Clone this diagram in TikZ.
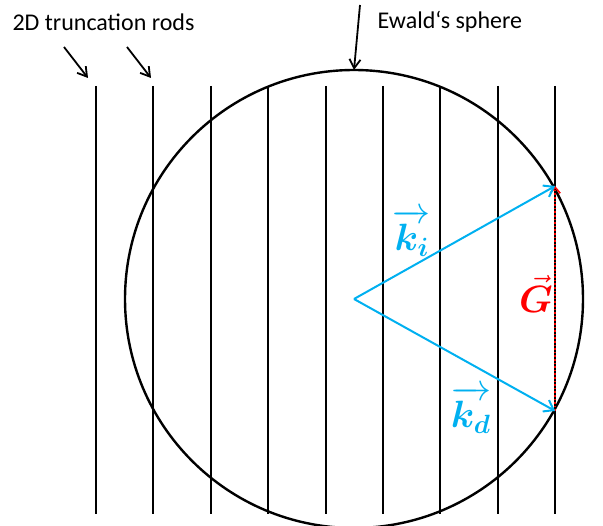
\documentclass[tikz,border=0pt]{standalone}
\usepackage{amsmath}
\usepackage{bm}
\usepackage{fontspec}
\setmainfont{Carlito}
\usetikzlibrary{arrows.meta}
\definecolor{kblue}{HTML}{00B0F0}
\definecolor{gred}{HTML}{FF0000}
\tikzset{
  rod/.style={black, line width=2pt},
  sphere/.style={black, line width=2.4pt},
  pointer/.style={black, line width=1.8pt, -{Straight Barb[length=9pt,width=11pt]}},
  wavevec/.style={kblue, line width=2pt, -{Straight Barb[length=9pt,width=13pt]}},
  recvec/.style={gred, line width=1.6pt, dotted, -{Straight Barb[length=6pt,width=10pt]}},
  vlabel/.style={font=\LARGE, inner sep=0pt},
  caption/.style={anchor=west, font=\fontsize{24}{28}\selectfont}
}
\newcommand{\biglabel}[1]{\scalebox{2.2}{$#1$}}

\begin{document}
\begin{tikzpicture}[x=1pt,y=-1pt]
\useasboundingbox (0,0) rectangle (603,526);
% truncation rods
\draw[rod] (96,86) -- (96,514);
\draw[rod] (153.4,86) -- (153.4,514);
\draw[rod] (210.8,86) -- (210.8,514);
\draw[rod] (268.2,86) -- (268.2,514);
\draw[rod] (325.6,86) -- (325.6,514);
\draw[rod] (383,86) -- (383,514);
\draw[rod] (440.4,86) -- (440.4,514);
\draw[rod] (497.8,86) -- (497.8,514);
\draw[rod] (555.2,86) -- (555.2,514);
% Ewald sphere
\coordinate (O) at (354,299);
\draw[sphere] (O) circle (229);
\coordinate (Ki) at (555.2,186);
\coordinate (Kd) at (555.2,411);
% vectors
\draw[recvec] (Kd) -- (Ki);
\draw[wavevec] (O) -- (Ki);
\draw[wavevec] (O) -- (Kd);
\node[vlabel, kblue] (kilabel) at (412,233) {\biglabel{\overrightarrow{\bm{k}_{\bm{i}}}}};
\node[vlabel, kblue] (kdlabel) at (471,410) {\biglabel{\overrightarrow{\bm{k}_{\bm{d}}}}};
\node[vlabel, gred] (glabel) at (536,294) {\biglabel{\vec{\bm{G}}}};
% captions
\node[caption] (rodtext) at (9,22) {2D truncation rods};
\node[caption] (ewaldtext) at (374,22) {Ewald‘s sphere};
\coordinate (a1) at (64,47);
\coordinate (b1) at (88,78);
\coordinate (a2) at (127,47);
\coordinate (b2) at (151,78);
\coordinate (a3) at (360,5);
\coordinate (b3) at (354,70);
\draw[pointer] (a1) -- (b1);
\draw[pointer] (a2) -- (b2);
\draw[pointer] (a3) -- (b3);
\end{tikzpicture}
\end{document}
